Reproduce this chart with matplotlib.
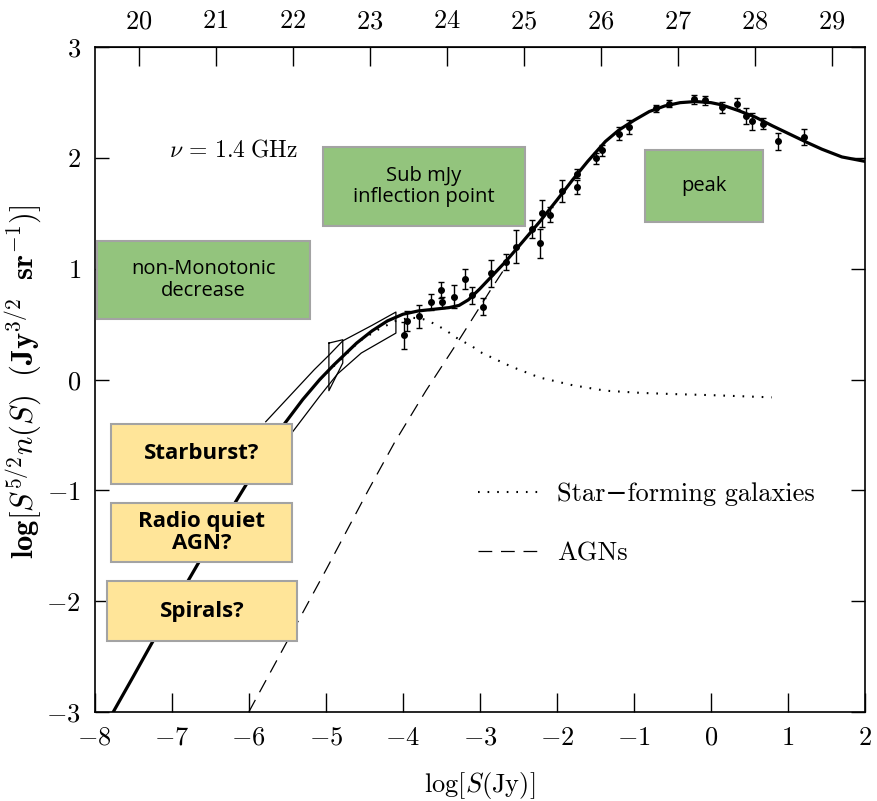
import matplotlib
matplotlib.use("Agg")
import matplotlib.pyplot as plt
from matplotlib.patches import Rectangle

plt.rcParams['font.family'] = ['cmr10', 'DejaVu Serif']
plt.rcParams['mathtext.fontset'] = 'cm'
plt.rcParams['axes.formatter.use_mathtext'] = True
plt.rcParams['axes.unicode_minus'] = True

# ==== DATI ====
# curva totale (linea spessa)
fit_x = [-7.76, -7.5, -7.26, -7.0, -6.6, -6.3, -6.08, -5.8, -5.56, -5.3, -5.08, -4.9,
         -4.78, -4.6, -4.4, -4.2, -4.0, -3.8, -3.6, -3.4, -3.27, -3.15, -3.0, -2.85,
         -2.66, -2.45, -2.23, -2.0, -1.8, -1.6, -1.37, -1.2, -1.0, -0.8, -0.6, -0.4,
         -0.2, 0.0, 0.14, 0.35, 0.575, 0.8, 1.01, 1.25, 1.44, 1.7, 2.0]
fit_y = [-3.0, -2.68, -2.38, -2.07, -1.59, -1.25, -1.0, -0.68, -0.42, -0.18, 0.0, 0.13,
         0.21, 0.33, 0.44, 0.53, 0.59, 0.62, 0.635, 0.65, 0.67, 0.72, 0.82, 0.93,
         1.07, 1.24, 1.42, 1.62, 1.80, 1.97, 2.15, 2.25, 2.34, 2.42, 2.47, 2.50,
         2.51, 2.50, 2.48, 2.43, 2.37, 2.29, 2.22, 2.14, 2.08, 2.01, 1.97]

# galassie star-forming (puntinato)
sf_x = [-5.08, -4.78, -4.56, -4.3, -4.09, -3.9, -3.75, -3.61, -3.45, -3.31, -3.10, -2.97,
        -2.6, -2.23, -1.80, -1.37, -0.9, -0.5, 0.0, 0.4, 0.79]
sf_y = [0.0, 0.20, 0.35, 0.46, 0.53, 0.56, 0.55, 0.51, 0.45, 0.38, 0.30, 0.24,
        0.12, 0.02, -0.05, -0.10, -0.12, -0.13, -0.14, -0.15, -0.16]

# AGN (tratteggiato)
agn_x = [-6.0, -5.0, -4.45, -4.11, -3.7, -3.26, -2.86, -2.7]
agn_y = [-3.0, -1.72, -1.0, -0.57, -0.1, 0.37, 0.81, 0.98]

# inviluppo P(D) e box
env_x = [-5.78, -5.15, -4.96, -4.78, -4.4, -4.09, -4.09, -4.54, -4.85, -5.08, -5.43]
env_y = [-0.38, 0.09, 0.22, 0.35, 0.49, 0.61, 0.42, 0.24, 0.05, -0.15, -0.47]
pd_x = [-4.96, -4.78, -4.78, -4.96, -4.96]
pd_y = [0.33, 0.36, 0.15, -0.10, 0.33]

# conteggi con errori
pts_x = [-3.98, -3.94, -3.79, -3.63, -3.50, -3.49, -3.34, -3.19, -3.10, -2.96, -2.86, -2.66,
         -2.53, -2.32, -2.22, -2.19, -2.09, -1.94, -1.74, -1.74, -1.49, -1.41, -1.19, -1.07,
         -0.71, -0.54, -0.22, -0.08, 0.14, 0.34, 0.45, 0.53, 0.68, 0.87, 1.21]
pts_y = [0.40, 0.53, 0.57, 0.70, 0.81, 0.70, 0.75, 0.91, 0.76, 0.66, 0.96, 1.06,
         1.20, 1.36, 1.23, 1.50, 1.49, 1.70, 1.86, 1.74, 2.00, 2.07, 2.22, 2.28,
         2.45, 2.49, 2.53, 2.52, 2.46, 2.49, 2.38, 2.33, 2.31, 2.15, 2.19]
pts_err = [0.12, 0.09, 0.10, 0.07, 0.07, 0.05, 0.10, 0.09, 0.08, 0.08, 0.12, 0.07,
           0.15, 0.08, 0.13, 0.12, 0.07, 0.10, 0.04, 0.06, 0.05, 0.05, 0.06, 0.06,
           0.03, 0.03, 0.04, 0.04, 0.05, 0.05, 0.07, 0.08, 0.05, 0.08, 0.07]

# box di annotazione: (x0, y0, x1, y1, testo, colore, grassetto)
green = "#93c47d"
yellow = "#ffe599"
boxes = [
    (-7.97, 0.547, -5.20, 1.254, "non-Monotonic\ndecrease", green, False),
    (-5.04, 1.39, -2.42, 2.10, "Sub mJy\ninflection point", green, False),
    (-0.85, 1.425, 0.67, 2.07, "peak", green, False),
    (-7.79, -0.94, -5.44, -0.40, "Starburst?", yellow, True),
    (-7.79, -1.65, -5.44, -1.11, "Radio quiet\nAGN?", yellow, True),
    (-7.84, -2.36, -5.38, -1.82, "Spirals?", yellow, True),
]

# ==== FIGURA ====
fig = plt.figure(figsize=(8.78, 8.01), dpi=100)
ax = fig.add_axes([0.1079, 0.1111, 0.8773, 0.8299])

ax.plot(fit_x, fit_y, color="black", lw=2.3, zorder=3)
sf_line, = ax.plot(sf_x, sf_y, color="black", lw=1.5, linestyle=(0, (0.8, 3.8)),
                   label="Star\u2212forming galaxies", zorder=2)
agn_line, = ax.plot(agn_x, agn_y, color="black", lw=0.9, linestyle=(0, (11, 7)),
                    label="AGNs", zorder=2)
ax.plot(env_x, env_y, color="black", lw=0.9, zorder=2)
ax.plot(pd_x, pd_y, color="black", lw=0.9, zorder=2)
ax.errorbar(pts_x, pts_y, yerr=pts_err, fmt="o", color="black", ms=4, elinewidth=1,
            capsize=2.5, capthick=1, zorder=4)

for x0, y0, x1, y1, txt, col, bold in boxes:
    ax.add_patch(Rectangle((x0, y0), x1 - x0, y1 - y0, facecolor=col,
                           edgecolor="#a3a3a3", lw=1.5, zorder=5))
    ax.text((x0 + x1) / 2, (y0 + y1) / 2, txt, ha="center", va="center",
            family="Open Sans", fontsize=16 if bold else 14.5,
            fontweight="bold" if bold else "normal",
            linespacing=1.1, zorder=6)

ax.text(-7.03, 2.07, r"$\nu\,=\,1.4\;\mathrm{GHz}$", fontsize=17, va="center", ha="left")

leg = ax.legend(handles=[sf_line, agn_line], loc="upper left",
                bbox_to_anchor=(0.48, 0.3655), frameon=False,
                prop={"family": ["cmr10", "DejaVu Serif"], "size": 19},
                handlelength=2.4, handletextpad=0.6, labelspacing=1.35, borderpad=0)

ax.set_xlim(-8, 2)
ax.set_ylim(-3, 3)
ax.set_xticks(range(-8, 3))
ax.set_yticks(range(-3, 4))
ax.tick_params(axis="x", direction="in", length=14, width=1, labelsize=19, pad=10)
ax.tick_params(axis="y", direction="in", length=10, width=1, labelsize=19, pad=10,
               right=True)
for s in ax.spines.values():
    s.set_linewidth(1.2)

top = ax.secondary_xaxis("top", functions=(lambda x: x + 27.43, lambda x: x - 27.43))
top.set_xticks(range(20, 30))
top.tick_params(direction="in", length=14, width=1, labelsize=19, pad=10)

ax.set_xlabel(r"$\log[S(\mathrm{Jy})]$", fontsize=19, labelpad=15)
ax.set_ylabel(r"$\mathbf{log}[S^{5/2}n(S)\ \ \mathbf{(Jy^{3/2}\ \ sr^{-1})}]$", fontsize=22)
ax.yaxis.set_label_coords(-0.066, 0.4965)

fig.savefig("out.png", dpi=100)
